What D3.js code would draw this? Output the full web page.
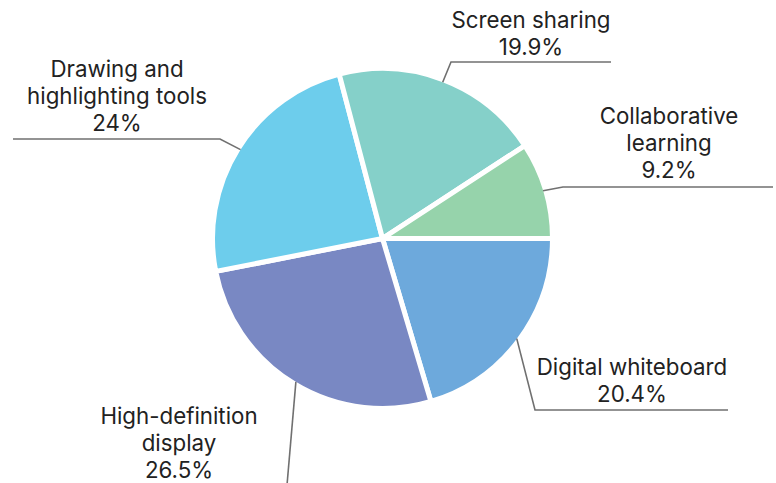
<!DOCTYPE html>
<html><head><meta charset="utf-8">
<script src="https://cdn.jsdelivr.net/npm/d3@7"></script>
<style>html,body{margin:0;padding:0;background:#fff;}svg{display:block;}</style>
</head><body>
<svg id="chart" width="776" height="483"></svg>
<script>
const categories = ["Digital whiteboard","High-definition display","Drawing and highlighting tools","Screen sharing","Collaborative learning"];
const values = [20.4, 26.5, 24, 19.9, 9.2];
const valueLabels = ["20.4%","26.5%","24%","19.9%","9.2%"];
const labelLines = [["Digital whiteboard"],["High-definition","display"],["Drawing and","highlighting tools"],["Screen sharing"],["Collaborative","learning"]];
const colors = ["#6da9dc","#7988c3","#6dcdec","#85d0c9","#96d3ab"];

// label layout (elbow and end of leader line, text anchor), not data
const layout = [
  {ex:535, ey:410, hx:728, tx:632, ty:375},
  {ex:284, ey:520, hx:284, tx:179, ty:424},
  {ex:220, ey:139, hx:13,  tx:117, ty:77},
  {ex:451, ey:62,  hx:611, tx:531, ty:28},
  {ex:563, ey:187, hx:773, tx:669, ty:124}
];

const svg = d3.select("#chart");
const cx = 382.5, cy = 238.5, R = 170;
const g = svg.append("g").attr("transform", `translate(${cx},${cy})`);

const pie = d3.pie().sort(null).value(d => d).startAngle(Math.PI/2).endAngle(Math.PI/2 + 2*Math.PI);
const arcs = pie(values);
const arc = d3.arc().innerRadius(0).outerRadius(R);

g.selectAll("path.slice").data(arcs).join("path")
  .attr("class","slice")
  .attr("d", arc)
  .attr("fill", (d,i) => colors[i])
  .attr("stroke", "#fff")
  .attr("stroke-width", 5)
  .attr("stroke-linejoin","miter");

g.selectAll("polyline.leader").data(arcs).join("polyline")
  .attr("class","leader")
  .attr("fill","none")
  .attr("stroke","#707070")
  .attr("stroke-width",1.6)
  .attr("points", (d,i) => {
    const a = (d.startAngle + d.endAngle)/2;
    const p = [Math.sin(a)*(R-2.5), -Math.cos(a)*(R-2.5)];
    const L = layout[i];
    return [p, [L.ex-cx, L.ey-cy], [L.hx-cx, L.ey-cy]].map(q => q.join(",")).join(" ");
  });

const lh = 27;
svg.selectAll("text.lbl").data(arcs).join("text")
  .attr("class","lbl")
  .attr("text-anchor","middle")
  .attr("font-family","Inter, 'Noto Sans', sans-serif")
  .attr("font-size", 22.3)
  .attr("fill","#222")
  .each(function(d,i){
    const t = d3.select(this);
    const lines = labelLines[i].concat([valueLabels[i]]);
    lines.forEach((s,k) => {
      t.append("tspan").attr("x", layout[i].tx).attr("y", layout[i].ty + k*lh).text(s);
    });
  });
</script>
</body></html>
